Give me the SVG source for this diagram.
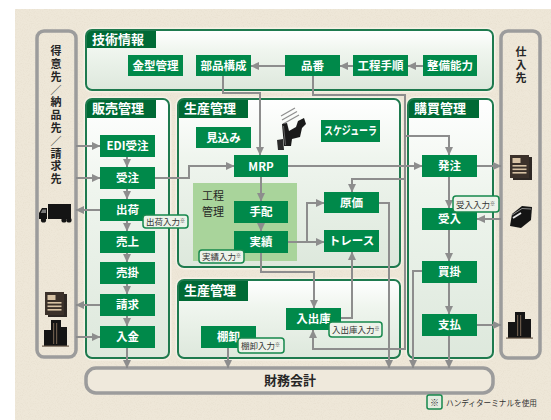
<svg xmlns="http://www.w3.org/2000/svg" width="551" height="420" viewBox="0 0 551 420">
  <defs>
    <style>
      text { font-family: "Noto Sans CJK JP", "Noto Sans", sans-serif; }
      .panel-halo { fill: none; stroke: #f6f1e6; stroke-width: 5; }
      .panel { fill: url(#panelFill); }
      .panel-edge { fill: none; stroke: #1e7a4e; stroke-width: 2; }
      .tab { fill: #006a35; }
      .tab-t { fill: #ffffff; font-size: 13px; font-weight: bold; }
      .node { fill: #00894a; }
      .node-t { fill: #ffffff; font-size: 11.5px; font-weight: bold; text-anchor: middle; }
      .tag { fill: #edf3ea; stroke: #16884c; stroke-width: 1.5; }
      .tag-t { fill: #333333; font-size: 8.5px; }
      .col { fill: none; stroke: #9c9c9c; stroke-width: 3.5; }
      .col-t { fill: #262626; font-size: 11px; font-weight: bold; writing-mode: vertical-rl; letter-spacing: 1.8px; }
      .wire { fill: none; stroke: #8d8d8d; stroke-width: 2; }
      .arrow { marker-end: url(#head); }
      .ink { fill: #141414; }
    </style>
    <linearGradient id="panelFill" x1="0" y1="0" x2="0" y2="1">
      <stop offset="0" stop-color="#ffffff"/>
      <stop offset="0.35" stop-color="#eff5ee"/>
      <stop offset="1" stop-color="#dde8dc"/>
    </linearGradient>
    <marker id="head" markerUnits="userSpaceOnUse" markerWidth="9" markerHeight="9" viewBox="0 0 9 9" refX="8" refY="4.5" orient="auto">
      <path d="M0,0.5 L8.5,4.5 L0,8.5 z" fill="#8d8d8d"/>
    </marker>
    <filter id="paper" x="0" y="0" width="1" height="1">
      <feTurbulence type="fractalNoise" baseFrequency="0.85" numOctaves="2" seed="7"/>
      <feColorMatrix type="matrix" values="0 0 0 0 0.6  0 0 0 0 0.52  0 0 0 0 0.4  0.4 0 0 0 -0.18"/>
    </filter>
  </defs>

  <!-- paper background -->
  <rect x="0" y="0" width="551" height="420" fill="#ffffff"/>
  <rect x="15" y="9" width="536" height="411" fill="#eee7d8"/>
  <rect x="15" y="9" width="536" height="411" fill="#eee7d8" filter="url(#paper)"/>

  <!-- customer column -->
  <g id="customers">
    <rect class="col" x="37" y="31" width="39" height="326" rx="7"/>
    <text class="col-t" x="56" y="45.5">得意先／納品先／請求先</text>
    <!-- truck -->
    <g id="truck">
      <rect class="ink" x="48" y="204" width="23" height="15"/>
      <path class="ink" d="M47,208 H42 L39,213 V219 H47 Z"/>
      <path d="M42.5,209.5 H46 V213 H40.8 Z" fill="#7a7a7a"/>
      <circle class="ink" cx="43.5" cy="220" r="2.6"/>
      <circle class="ink" cx="64" cy="220" r="2.6"/>
      <circle class="ink" cx="69" cy="220" r="2.6"/>
    </g>
    <!-- invoice document -->
    <g id="invoice-doc">
      <rect x="48" y="294" width="19" height="23" fill="#2e2824"/>
      <rect x="45" y="292" width="19" height="23" fill="#3b312a"/>
      <rect x="47.5" y="295" width="8" height="5" fill="#d8c3a5"/>
      <rect x="47.5" y="302" width="14" height="1.6" fill="#d8c3a5"/>
      <rect x="47.5" y="305.5" width="14" height="1.6" fill="#d8c3a5"/>
      <rect x="47.5" y="309" width="14" height="1.6" fill="#d8c3a5"/>
    </g>
    <!-- customer building -->
    <g id="customer-bldg">
      <rect class="ink" x="51" y="320" width="10" height="26"/>
      <rect class="ink" x="44" y="330" width="8" height="16"/>
      <rect class="ink" x="60" y="327" width="7" height="19"/>
      <rect x="53" y="323" width="1.2" height="21" fill="#6a5a4a"/>
      <rect x="56" y="323" width="1.2" height="21" fill="#6a5a4a"/>
      <rect x="42" y="345.5" width="27" height="1.2" fill="#6a5a4a"/>
    </g>
  </g>

  <!-- supplier column -->
  <g id="suppliers">
    <rect class="col" x="501" y="31" width="39" height="327" rx="7"/>
    <text class="col-t" x="521" y="46.5">仕入先</text>
    <g id="order-doc">
      <rect x="513" y="157" width="19" height="23" fill="#2e2824"/>
      <rect x="510" y="155" width="19" height="23" fill="#3b312a"/>
      <rect x="512.5" y="158" width="8" height="5" fill="#d8c3a5"/>
      <rect x="512.5" y="165" width="14" height="1.6" fill="#d8c3a5"/>
      <rect x="512.5" y="168.5" width="14" height="1.6" fill="#d8c3a5"/>
      <rect x="512.5" y="172" width="14" height="1.6" fill="#d8c3a5"/>
    </g>
    <g id="parcel">
      <path class="ink" d="M512,214 L522,206 L532,207 L531,220 L521,228 L510,226 Z"/>
      <path d="M512,215 L522,208.5 L531,209" fill="none" stroke="#8a8a8a" stroke-width="1"/>
      <path d="M513,218 L521,213" fill="none" stroke="#e8e8e8" stroke-width="1.8"/>
    </g>
    <g id="supplier-bldg">
      <rect class="ink" x="515" y="312" width="10" height="26"/>
      <rect class="ink" x="508" y="322" width="8" height="16"/>
      <rect class="ink" x="524" y="319" width="7" height="19"/>
      <rect x="517" y="315" width="1.2" height="21" fill="#6a5a4a"/>
      <rect x="520" y="315" width="1.2" height="21" fill="#6a5a4a"/>
      <rect x="506" y="337.5" width="27" height="1.2" fill="#6a5a4a"/>
    </g>
  </g>

  <!-- engineering data panel -->
  <g id="tech-info">
    <rect class="panel-halo" x="86" y="30" width="407" height="60" rx="6"/>
    <rect class="panel" x="86" y="30" width="407" height="60" rx="6"/>
    <path class="tab" d="M86,48 V36 A6,6 0 0 1 92,30 H156 V48 Z"/>
    <rect class="panel-edge" x="86" y="30" width="407" height="60" rx="6"/>
    <text class="tab-t" x="92" y="44">技術情報</text>
  </g>

  <!-- sales panel -->
  <g id="sales">
    <rect class="panel-halo" x="86" y="99" width="83" height="259" rx="6"/>
    <rect class="panel" x="86" y="99" width="83" height="259" rx="6"/>
    <path class="tab" d="M86,118 V105 A6,6 0 0 1 92,99 H156 V118 Z"/>
    <rect class="panel-edge" x="86" y="99" width="83" height="259" rx="6"/>
    <text class="tab-t" x="92" y="113">販売管理</text>
  </g>

  <!-- production panel (upper) -->
  <g id="production">
    <rect class="panel-halo" x="178" y="99" width="222" height="168" rx="6"/>
    <rect class="panel" x="178" y="99" width="222" height="168" rx="6"/>
    <path class="tab" d="M178,118 V105 A6,6 0 0 1 184,99 H248 V118 Z"/>
    <rect class="panel-edge" x="178" y="99" width="222" height="168" rx="6"/>
    <text class="tab-t" x="184" y="113">生産管理</text>
    <rect x="193" y="183" width="104" height="78" fill="#a9d49b"/>
    <text fill="#262626" font-size="11" text-anchor="middle"><tspan x="213" y="199.5">工程</tspan><tspan x="213" y="215.5">管理</tspan></text>
    <!-- factory icon -->
    <g id="factory">
      <path d="M281,116 L295,108 M282,120 L297,111.5 M283,124 L299,115" fill="none" stroke="#8e8e8e" stroke-width="1.2"/>
      <path d="M282,124 L284,146 L291,146 L292,139 L300,137 L302,128 L306,124 L304,118 L298,121 L296,127 L289,131 L287,123 Z" fill="#1a1a1a"/>
      <path d="M277,140 L283,139 L284,150 L278,150 Z" fill="#2a2a2a"/>
      <path d="M283.5,126 L285.5,145" stroke="#777" stroke-width="0.8"/>
    </g>
  </g>

  <!-- production panel (lower) -->
  <g id="inventory">
    <rect class="panel-halo" x="178" y="280" width="222" height="78" rx="6"/>
    <rect class="panel" x="178" y="280" width="222" height="78" rx="6"/>
    <path class="tab" d="M178,301 V286 A6,6 0 0 1 184,280 H248 V301 Z"/>
    <rect class="panel-edge" x="178" y="280" width="222" height="78" rx="6"/>
    <text class="tab-t" x="184" y="295">生産管理</text>
  </g>

  <!-- purchasing panel -->
  <g id="purchasing">
    <rect class="panel-halo" x="408" y="99" width="85" height="259" rx="6"/>
    <rect class="panel" x="408" y="99" width="85" height="259" rx="6"/>
    <path class="tab" d="M408,118 V105 A6,6 0 0 1 414,99 H479 V118 Z"/>
    <rect class="panel-edge" x="408" y="99" width="85" height="259" rx="6"/>
    <text class="tab-t" x="414" y="113">購買管理</text>
  </g>

  <!-- accounting bar -->
  <g id="accounting">
    <rect x="86" y="368" width="407" height="25" rx="10" fill="#efe9dc" stroke="#9c9c9c" stroke-width="3.5"/>
    <text x="290" y="385" fill="#262626" font-size="13" font-weight="bold" text-anchor="middle">財務会計</text>
  </g>

  <!-- connectors -->
  <g id="connectors">
    <path class="wire arrow" d="M423,66 H408"/>
    <path class="wire arrow" d="M353,66 H340"/>
    <path class="wire arrow" d="M285,66 H251"/>
    <path class="wire arrow" d="M223,76 V93 H260 V155"/>
    <path class="wire arrow" d="M313,76 V95 H405 V349 H313 V330"/>
    <path class="wire arrow" d="M405,136 H449 V155"/>
    <path class="wire arrow" d="M405,179 H352 V192"/>
    <path class="wire arrow" d="M155,178 H189 V166 H234"/>
    <path class="wire arrow" d="M288,166 H422"/>
    <path class="wire arrow" d="M261,177 V201"/>
    <path class="wire arrow" d="M261,223 V231"/>
    <path class="wire arrow" d="M288,242 H324"/>
    <path class="wire arrow" d="M307,242 V203 H324"/>
    <path class="wire arrow" d="M261,253 V272 H314 V308"/>
    <path class="wire arrow" d="M341,318 H352 V252"/>
    <path class="wire arrow" d="M379,203 H389 V368"/>
    <path class="wire arrow" d="M422,271 H413 V368"/>
    <path class="wire arrow" d="M449,336 V368"/>
    <path class="wire arrow" d="M127,348 V368"/>
    <path class="wire arrow" d="M228,348 V368"/>
    <path class="wire arrow" d="M76,146 H100"/>
    <path class="wire arrow" d="M76,178 H100"/>
    <path class="wire arrow" d="M100,210 H76"/>
    <path class="wire arrow" d="M100,305 H76"/>
    <path class="wire arrow" d="M76,337 H100"/>
    <path class="wire arrow" d="M127,157 V167"/>
    <path class="wire arrow" d="M127,189 V199"/>
    <path class="wire arrow" d="M127,221 V231"/>
    <path class="wire arrow" d="M127,253 V262"/>
    <path class="wire arrow" d="M127,284 V294"/>
    <path class="wire arrow" d="M127,316 V326"/>
    <path class="wire arrow" d="M449,177 V208"/>
    <path class="wire arrow" d="M449,230 V261"/>
    <path class="wire arrow" d="M449,283 V314"/>
    <path class="wire arrow" d="M477,166 H501"/>
    <path class="wire arrow" d="M501,219 H477"/>
    <path class="wire arrow" d="M477,325 H501"/>
  </g>

  <!-- nodes -->
  <g id="n-kanagata"><rect class="node" x="128" y="55" width="55" height="21"/><text class="node-t" x="155.5" y="69.5">金型管理</text></g>
  <g id="n-buhin"><rect class="node" x="196" y="55" width="55" height="21"/><text class="node-t" x="223.5" y="69.5">部品構成</text></g>
  <g id="n-hinban"><rect class="node" x="285" y="55" width="55" height="21"/><text class="node-t" x="312.5" y="69.5">品番</text></g>
  <g id="n-koutei"><rect class="node" x="353" y="55" width="55" height="21"/><text class="node-t" x="380.5" y="69.5">工程手順</text></g>
  <g id="n-seibi"><rect class="node" x="423" y="55" width="54" height="21"/><text class="node-t" x="450" y="69.5">整備能力</text></g>

  <g id="n-edi"><rect class="node" x="100" y="135" width="55" height="22"/><text class="node-t" x="127.5" y="150">EDI受注</text></g>
  <g id="n-juchu"><rect class="node" x="100" y="167" width="55" height="22"/><text class="node-t" x="127.5" y="182">受注</text></g>
  <g id="n-shukka"><rect class="node" x="100" y="199" width="55" height="22"/><text class="node-t" x="127.5" y="214">出荷</text></g>
  <g id="n-uriage"><rect class="node" x="100" y="231" width="55" height="22"/><text class="node-t" x="127.5" y="246">売上</text></g>
  <g id="n-urikake"><rect class="node" x="100" y="262" width="55" height="22"/><text class="node-t" x="127.5" y="277">売掛</text></g>
  <g id="n-seikyu"><rect class="node" x="100" y="294" width="55" height="22"/><text class="node-t" x="127.5" y="309">請求</text></g>
  <g id="n-nyukin"><rect class="node" x="100" y="326" width="55" height="22"/><text class="node-t" x="127.5" y="341">入金</text></g>
  <g id="t-shukka"><rect class="tag" x="143" y="215" width="45" height="13" rx="3"/><text class="tag-t" x="146" y="225">出荷入力<tspan font-size="5" dy="-3">※</tspan></text></g>

  <g id="n-mikomi"><rect class="node" x="196" y="127" width="55" height="21"/><text class="node-t" x="223.5" y="141.5">見込み</text></g>
  <g id="n-mrp"><rect class="node" x="234" y="155" width="54" height="22"/><text class="node-t" x="261" y="170.5" font-size="13" font-weight="normal">MRP</text></g>
  <g id="n-sched"><rect class="node" x="321" y="120" width="59" height="22"/><text class="node-t" x="350.5" y="135" font-size="10.5" font-weight="normal" textLength="53" lengthAdjust="spacingAndGlyphs">スケジューラ</text></g>
  <g id="n-tehai"><rect class="node" x="234" y="201" width="54" height="22"/><text class="node-t" x="261" y="216">手配</text></g>
  <g id="n-jisseki"><rect class="node" x="234" y="231" width="54" height="22"/><text class="node-t" x="261" y="246">実績</text></g>
  <g id="t-jisseki"><rect class="tag" x="199" y="250" width="45" height="13" rx="3"/><text class="tag-t" x="202" y="260">実績入力<tspan font-size="5" dy="-3">※</tspan></text></g>
  <g id="n-genka"><rect class="node" x="324" y="192" width="55" height="21"/><text class="node-t" x="351.5" y="206.5">原価</text></g>
  <g id="n-trace"><rect class="node" x="324" y="230" width="55" height="22"/><text class="node-t" x="351.5" y="245" font-weight="normal">トレース</text></g>

  <g id="n-nyushukko"><rect class="node" x="286" y="308" width="55" height="22"/><text class="node-t" x="313.5" y="323">入出庫</text></g>
  <g id="t-nyushukko"><rect class="tag" x="329" y="322" width="53" height="15" rx="3"/><text class="tag-t" x="332" y="333">入出庫入力<tspan font-size="5" dy="-3">※</tspan></text></g>
  <g id="n-tanaoroshi"><rect class="node" x="201" y="326" width="55" height="22"/><text class="node-t" x="228.5" y="341">棚卸</text></g>
  <g id="t-tanaoroshi"><rect class="tag" x="238" y="338" width="46" height="15" rx="3"/><text class="tag-t" x="241" y="349">棚卸入力<tspan font-size="5" dy="-3">※</tspan></text></g>

  <g id="n-hatchu"><rect class="node" x="422" y="155" width="55" height="22"/><text class="node-t" x="449.5" y="170">発注</text></g>
  <g id="n-ukeire"><rect class="node" x="422" y="208" width="55" height="22"/><text class="node-t" x="449.5" y="223">受入</text></g>
  <g id="t-ukeire"><rect class="tag" x="453" y="196" width="46" height="16" rx="3"/><text class="tag-t" x="456" y="207.5">受入入力<tspan font-size="5" dy="-3">※</tspan></text></g>
  <g id="n-kaikake"><rect class="node" x="422" y="261" width="55" height="22"/><text class="node-t" x="449.5" y="276">買掛</text></g>
  <g id="n-shiharai"><rect class="node" x="422" y="314" width="55" height="22"/><text class="node-t" x="449.5" y="329">支払</text></g>

  <!-- legend -->
  <g id="legend">
    <rect x="427" y="395" width="15" height="14" rx="2" fill="#e4ece0" stroke="#16884c" stroke-width="1.5"/>
    <text x="434.5" y="405.5" fill="#333333" font-size="9" text-anchor="middle">※</text>
    <text x="446" y="406" fill="#333333" font-size="8.5" textLength="91" lengthAdjust="spacingAndGlyphs">ハンディターミナルを使用</text>
  </g>
</svg>
